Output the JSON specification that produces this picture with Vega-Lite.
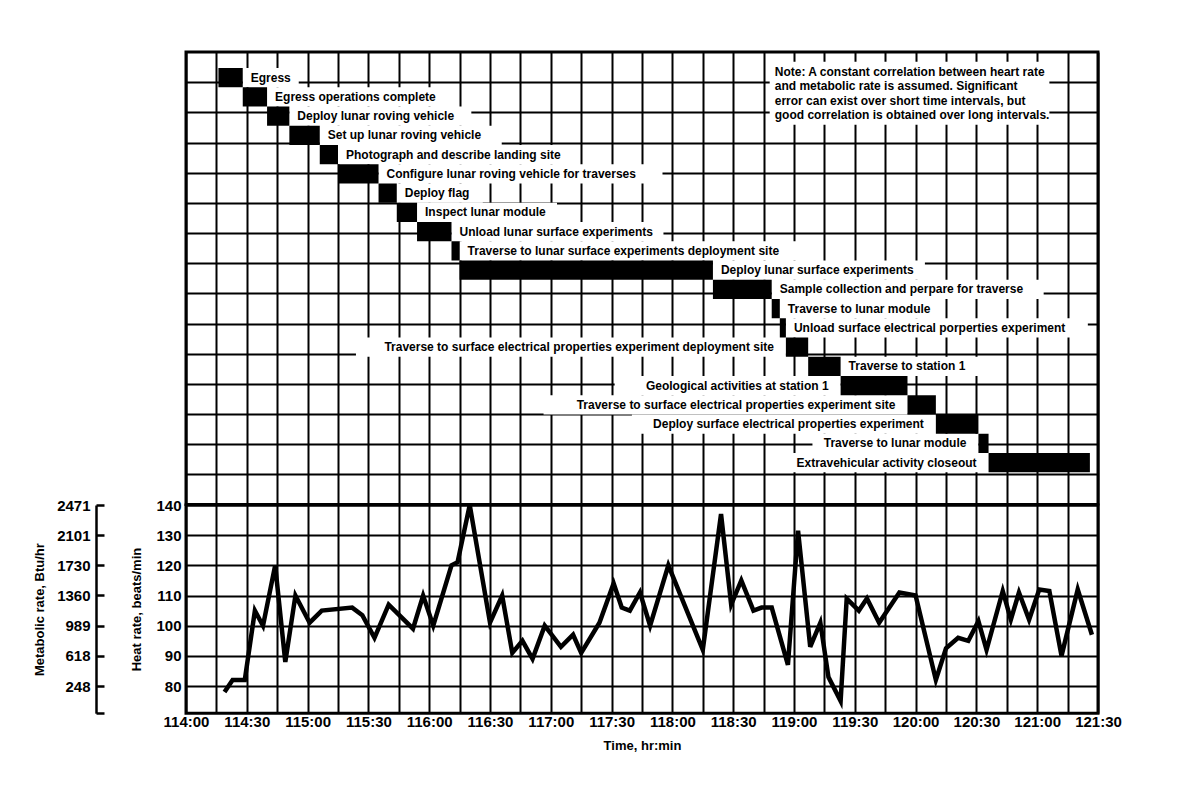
{
  "$schema": "https://vega.github.io/schema/vega-lite/v6.json",
  "background": "white",
  "padding": {"left": 32, "top": 50, "right": 5, "bottom": 5},
  "spacing": 0,
  "bounds": "flush",
  "config": {
    "font": "Liberation Sans",
    "view": {"stroke": "black", "strokeWidth": 3},
    "axis": {
      "gridColor": "black", "gridOpacity": 1, "gridWidth": 2,
      "domainColor": "black", "tickColor": "black",
      "labelColor": "black", "titleColor": "black",
      "labelFont": "Liberation Sans", "titleFont": "Liberation Sans",
      "labelFontWeight": "bold", "titleFontWeight": "bold",
      "labelFontSize": 15, "titleFontSize": 13,
      "labelFlush": false, "labelOverlap": false
    }
  },
  "datasets": {
    "tasks": [
      {"step": 1, "task": "Egress", "start": 6856, "end": 6868},
      {"step": 2, "task": "Egress operations complete", "start": 6868, "end": 6880},
      {"step": 3, "task": "Deploy lunar roving vehicle", "start": 6880, "end": 6891},
      {"step": 4, "task": "Set up lunar roving vehicle", "start": 6891, "end": 6906},
      {"step": 5, "task": "Photograph and describe landing site", "start": 6906, "end": 6915},
      {"step": 6, "task": "Configure lunar roving vehicle for traverses", "start": 6915, "end": 6935},
      {"step": 7, "task": "Deploy flag", "start": 6935, "end": 6944},
      {"step": 8, "task": "Inspect lunar module", "start": 6944, "end": 6954},
      {"step": 9, "task": "Unload lunar surface experiments", "start": 6954, "end": 6971},
      {"step": 10, "task": "Traverse to lunar surface experiments deployment site", "start": 6971, "end": 6975},
      {"step": 11, "task": "Deploy lunar surface experiments", "start": 6975, "end": 7100},
      {"step": 12, "task": "Sample collection and perpare for traverse", "start": 7100, "end": 7129},
      {"step": 13, "task": "Traverse to lunar module", "start": 7129, "end": 7133},
      {"step": 14, "task": "Unload surface electrical porperties experiment", "start": 7133, "end": 7136},
      {"step": 15, "task": "Traverse to surface electrical properties experiment deployment site", "start": 7136, "end": 7147},
      {"step": 16, "task": "Traverse to station 1", "start": 7147, "end": 7163},
      {"step": 17, "task": "Geological activities at station 1", "start": 7163, "end": 7196},
      {"step": 18, "task": "Traverse to surface electrical properties experiment site", "start": 7196, "end": 7210},
      {"step": 19, "task": "Deploy surface electrical properties experiment", "start": 7210, "end": 7231},
      {"step": 20, "task": "Traverse to lunar module", "start": 7231, "end": 7236},
      {"step": 21, "task": "Extravehicular activity closeout", "start": 7236, "end": 7286}
    ],
    "heart": [
      {"get_min": 6859, "heart_rate": 78}, {"get_min": 6863, "heart_rate": 82}, {"get_min": 6869, "heart_rate": 82},
      {"get_min": 6874, "heart_rate": 105}, {"get_min": 6878, "heart_rate": 100}, {"get_min": 6884, "heart_rate": 120},
      {"get_min": 6889, "heart_rate": 88}, {"get_min": 6894, "heart_rate": 110}, {"get_min": 6901, "heart_rate": 101},
      {"get_min": 6907, "heart_rate": 105}, {"get_min": 6922, "heart_rate": 106}, {"get_min": 6927, "heart_rate": 103.5},
      {"get_min": 6933, "heart_rate": 96}, {"get_min": 6940, "heart_rate": 107}, {"get_min": 6952, "heart_rate": 99},
      {"get_min": 6957, "heart_rate": 110}, {"get_min": 6962, "heart_rate": 100}, {"get_min": 6971, "heart_rate": 120},
      {"get_min": 6974, "heart_rate": 121}, {"get_min": 6980, "heart_rate": 140}, {"get_min": 6990, "heart_rate": 101},
      {"get_min": 6996, "heart_rate": 110}, {"get_min": 7001, "heart_rate": 91}, {"get_min": 7006, "heart_rate": 95},
      {"get_min": 7011, "heart_rate": 89}, {"get_min": 7017, "heart_rate": 100}, {"get_min": 7025, "heart_rate": 93},
      {"get_min": 7031, "heart_rate": 97}, {"get_min": 7035, "heart_rate": 91}, {"get_min": 7044, "heart_rate": 101},
      {"get_min": 7051, "heart_rate": 114}, {"get_min": 7055, "heart_rate": 106}, {"get_min": 7059, "heart_rate": 105},
      {"get_min": 7064, "heart_rate": 111}, {"get_min": 7069, "heart_rate": 100}, {"get_min": 7078, "heart_rate": 120},
      {"get_min": 7095, "heart_rate": 92}, {"get_min": 7104, "heart_rate": 137}, {"get_min": 7109, "heart_rate": 107},
      {"get_min": 7114, "heart_rate": 115}, {"get_min": 7120, "heart_rate": 105}, {"get_min": 7124, "heart_rate": 106},
      {"get_min": 7129, "heart_rate": 106}, {"get_min": 7137, "heart_rate": 87}, {"get_min": 7142, "heart_rate": 131.5},
      {"get_min": 7148, "heart_rate": 93}, {"get_min": 7153, "heart_rate": 101}, {"get_min": 7157, "heart_rate": 83},
      {"get_min": 7163, "heart_rate": 75}, {"get_min": 7166, "heart_rate": 109}, {"get_min": 7172, "heart_rate": 105},
      {"get_min": 7176, "heart_rate": 109}, {"get_min": 7182, "heart_rate": 101}, {"get_min": 7192, "heart_rate": 111},
      {"get_min": 7200, "heart_rate": 110}, {"get_min": 7210, "heart_rate": 82}, {"get_min": 7215, "heart_rate": 92.5},
      {"get_min": 7221, "heart_rate": 96}, {"get_min": 7226, "heart_rate": 95}, {"get_min": 7231, "heart_rate": 101.5},
      {"get_min": 7235, "heart_rate": 92}, {"get_min": 7243, "heart_rate": 111.5}, {"get_min": 7247, "heart_rate": 102},
      {"get_min": 7251, "heart_rate": 111}, {"get_min": 7256, "heart_rate": 102}, {"get_min": 7261, "heart_rate": 112},
      {"get_min": 7266, "heart_rate": 111.5}, {"get_min": 7272, "heart_rate": 90}, {"get_min": 7280, "heart_rate": 112},
      {"get_min": 7287, "heart_rate": 97}
    ],
    "metabolic": [
      {"heart_rate": 80, "btu_hr": 248}, {"heart_rate": 90, "btu_hr": 618}, {"heart_rate": 100, "btu_hr": 989},
      {"heart_rate": 110, "btu_hr": 1360}, {"heart_rate": 120, "btu_hr": 1730}, {"heart_rate": 130, "btu_hr": 2101},
      {"heart_rate": 140, "btu_hr": 2471}
    ]
  },
  "vconcat": [
    {
      "width": 912,
      "height": 452.6,
      "data": {"name": "tasks"},
      "transform": [
        {"calculate": "284.70 - (datum.step - 1) * 6.380", "as": "row_top"},
        {"calculate": "datum.row_top - 6.380", "as": "row_bottom"},
        {"calculate": "datum.row_top - 3.19", "as": "row_mid"},
        {"calculate": "indexof([15,17,18,19,20,21], datum.step) >= 0 ? 'left' : 'right'", "as": "label_side"},
        {"calculate": "datum.label_side == 'right' ? datum.end : datum.start - (length(datum.task) * 6.0 + 22) / 2.027", "as": "bg_x"},
        {"calculate": "datum.label_side == 'right' ? datum.end + (length(datum.task) * 6.0 + 20) / 2.027 : datum.start", "as": "bg_x2"}
      ],
      "layer": [
        {
          "mark": {"type": "rect", "fill": "white"},
          "encoding": {
            "x": {"field": "bg_x", "type": "quantitative",
              "scale": {"domain": [6840, 7290], "nice": false, "zero": false},
              "axis": {"values": [6840,6855,6870,6885,6900,6915,6930,6945,6960,6975,6990,7005,7020,7035,7050,7065,7080,7095,7110,7125,7140,7155,7170,7185,7200,7215,7230,7245,7260,7275,7290],
                "labels": false, "ticks": false, "domain": false, "title": null, "grid": true}},
            "x2": {"field": "bg_x2"},
            "y": {"field": "row_top", "type": "quantitative",
              "scale": {"domain": [140, 290], "nice": false, "zero": false},
              "axis": {"values": [150,160,170,180,190,200,210,220,230,240,250,260,270,280],
                "labels": false, "ticks": false, "domain": false, "title": null, "grid": true}},
            "y2": {"field": "row_bottom"}
          }
        },
        {
          "mark": {"type": "rect", "fill": "black"},
          "encoding": {
            "x": {"field": "start", "type": "quantitative",
              "axis": {"values": [6840,6855,6870,6885,6900,6915,6930,6945,6960,6975,6990,7005,7020,7035,7050,7065,7080,7095,7110,7125,7140,7155,7170,7185,7200,7215,7230,7245,7260,7275,7290],
                "labels": false, "ticks": false, "domain": false, "title": null, "grid": true}},
            "x2": {"field": "end"},
            "y": {"field": "row_top", "type": "quantitative",
              "axis": {"values": [150,160,170,180,190,200,210,220,230,240,250,260,270,280],
                "labels": false, "ticks": false, "domain": false, "title": null, "grid": true}},
            "y2": {"field": "row_bottom"}
          }
        },
        {
          "transform": [{"filter": "datum.label_side == 'right'"}],
          "mark": {"type": "text", "align": "left", "baseline": "middle", "dx": 8, "fontSize": 12, "fontWeight": "bold", "color": "black"},
          "encoding": {
            "x": {"field": "end", "type": "quantitative",
              "axis": {"values": [6840,6855,6870,6885,6900,6915,6930,6945,6960,6975,6990,7005,7020,7035,7050,7065,7080,7095,7110,7125,7140,7155,7170,7185,7200,7215,7230,7245,7260,7275,7290],
                "labels": false, "ticks": false, "domain": false, "title": null, "grid": true}},
            "y": {"field": "row_mid", "type": "quantitative",
              "axis": {"values": [150,160,170,180,190,200,210,220,230,240,250,260,270,280],
                "labels": false, "ticks": false, "domain": false, "title": null, "grid": true}},
            "text": {"field": "task"}
          }
        },
        {
          "transform": [{"filter": "datum.label_side == 'left'"}],
          "mark": {"type": "text", "align": "right", "baseline": "middle", "dx": -12, "fontSize": 12, "fontWeight": "bold", "color": "black"},
          "encoding": {
            "x": {"field": "start", "type": "quantitative",
              "axis": {"values": [6840,6855,6870,6885,6900,6915,6930,6945,6960,6975,6990,7005,7020,7035,7050,7065,7080,7095,7110,7125,7140,7155,7170,7185,7200,7215,7230,7245,7260,7275,7290],
                "labels": false, "ticks": false, "domain": false, "title": null, "grid": true}},
            "y": {"field": "row_mid", "type": "quantitative",
              "axis": {"values": [150,160,170,180,190,200,210,220,230,240,250,260,270,280],
                "labels": false, "ticks": false, "domain": false, "title": null, "grid": true}},
            "text": {"field": "task"}
          }
        },
        {
          "data": {"values": [{}]},
          "mark": {"type": "rect", "fill": "white"},
          "encoding": {
            "x": {"datum": 7128, "type": "quantitative",
              "axis": {"values": [6840,6855,6870,6885,6900,6915,6930,6945,6960,6975,6990,7005,7020,7035,7050,7065,7080,7095,7110,7125,7140,7155,7170,7185,7200,7215,7230,7245,7260,7275,7290],
                "labels": false, "ticks": false, "domain": false, "title": null, "grid": true}},
            "x2": {"datum": 7266},
            "y": {"datum": 286.8, "type": "quantitative",
              "axis": {"values": [150,160,170,180,190,200,210,220,230,240,250,260,270,280],
                "labels": false, "ticks": false, "domain": false, "title": null, "grid": true}},
            "y2": {"datum": 265.9}
          }
        },
        {
          "data": {"values": [{}]},
          "mark": {"type": "text", "align": "left", "baseline": "top", "lineHeight": 14.4,
            "fontSize": 12, "fontWeight": "bold", "color": "black",
            "text": ["Note:  A constant correlation between heart rate", "and metabolic rate is assumed.  Significant", "error can exist over short time intervals, but", "good correlation is obtained over long intervals."]},
          "encoding": {
            "x": {"datum": 7130.5, "type": "quantitative",
              "axis": {"values": [6840,6855,6870,6885,6900,6915,6930,6945,6960,6975,6990,7005,7020,7035,7050,7065,7080,7095,7110,7125,7140,7155,7170,7185,7200,7215,7230,7245,7260,7275,7290],
                "labels": false, "ticks": false, "domain": false, "title": null, "grid": true}},
            "y": {"datum": 285.0, "type": "quantitative",
              "axis": {"values": [150,160,170,180,190,200,210,220,230,240,250,260,270,280],
                "labels": false, "ticks": false, "domain": false, "title": null, "grid": true}}
          }
        }
      ]
    },
    {
      "width": 912,
      "height": 208.2,
      "layer": [
        {
          "data": {"name": "heart"},
          "mark": {"type": "line", "color": "black", "strokeWidth": 4.5, "strokeJoin": "miter", "strokeCap": "butt"},
          "encoding": {
            "x": {"field": "get_min", "type": "quantitative",
              "scale": {"domain": [6840, 7290], "nice": false, "zero": false},
              "axis": {"values": [6840,6855,6870,6885,6900,6915,6930,6945,6960,6975,6990,7005,7020,7035,7050,7065,7080,7095,7110,7125,7140,7155,7170,7185,7200,7215,7230,7245,7260,7275,7290],
                "labelExpr": "datum.value % 30 == 0 ? floor(datum.value / 60) + ':' + (datum.value % 60 == 0 ? '00' : '30') : ''",
                "ticks": false, "domain": false, "grid": true, "labelPadding": 1,
                "title": "Time, hr:min", "titlePadding": 10}},
            "y": {"field": "heart_rate", "type": "quantitative",
              "scale": {"domain": [71, 140], "nice": false, "zero": false},
              "axis": {"values": [80, 90, 100, 110, 120, 130, 140], "ticks": false, "domain": false, "grid": true,
                "labelPadding": 5, "title": "Heat rate, beats/min", "titlePadding": 12}}
          }
        },
        {
          "data": {"name": "metabolic"},
          "mark": {"type": "point", "opacity": 0},
          "encoding": {
            "y": {"field": "btu_hr", "type": "quantitative",
              "scale": {"domain": [-85.5, 2471], "nice": false, "zero": false},
              "axis": {"orient": "left", "offset": 90, "values": [-85.5, 248, 618, 989, 1360, 1730, 2101, 2471],
                "format": "d",
                "labelExpr": "datum.value < 0 ? '' : datum.label",
                "grid": false, "tickSize": -8, "tickWidth": 2.5, "domainWidth": 2.5, "labelPadding": 14,
                "title": "Metabolic rate, Btu/hr", "titlePadding": 10}}
          }
        }
      ],
      "resolve": {"scale": {"y": "independent"}}
    }
  ]
}
